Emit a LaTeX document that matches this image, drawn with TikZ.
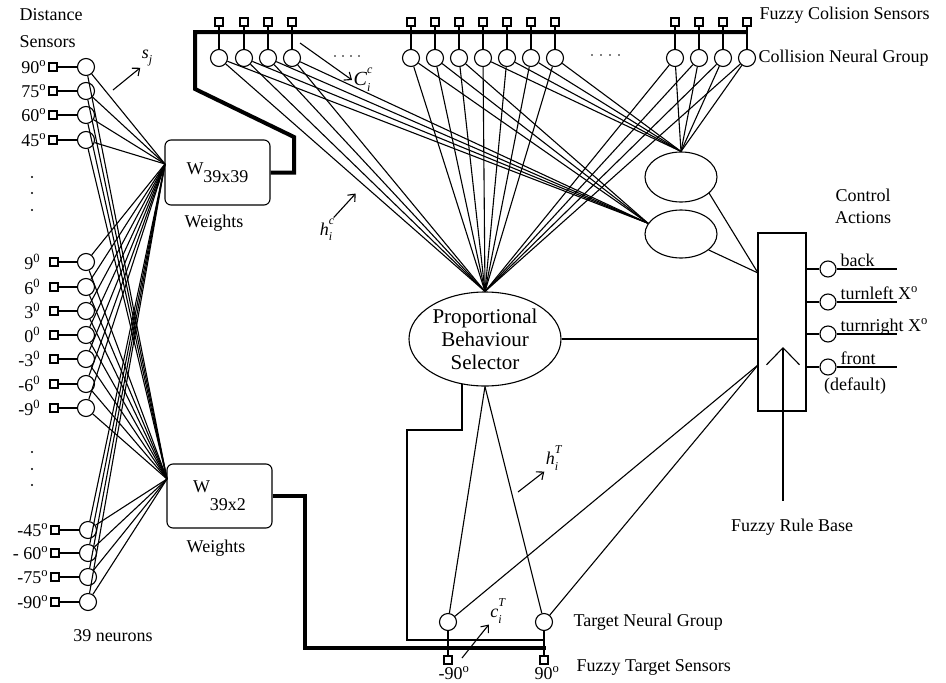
\documentclass[tikz,border=0pt]{standalone}
\usepackage{fontspec}
\setmainfont{Liberation Serif}
\usetikzlibrary{arrows.meta}
\usetikzlibrary{shapes.geometric}
\usetikzlibrary{positioning}
\newcommand{\idxlabel}[3]{\textit{#1}\rlap{\raisebox{0.6em}{\fontsize{12}{12}\selectfont\textit{#3}}}\raisebox{-0.3em}{\fontsize{12}{12}\selectfont\textit{#2}}}
\tikzset{neuron/.style = {draw, circle, minimum size=17pt, inner sep=0pt},
         sensor/.style = {draw, rectangle, minimum size=8.5pt, inner sep=0pt, line width=2.2pt},
         wbox/.style = {draw, rounded corners=6pt, minimum width=105pt, minimum height=65pt},
         bus/.style = {line width=4pt},
         selbus/.style = {line width=2.5pt},
         pointer/.style = {-{Straight Barb[length=6pt,width=10pt]}}}

\begin{document}
\begin{tikzpicture}[x=1pt, y=-1pt, line width=1.1pt, font=\fontsize{18}{21}\selectfont]
    \useasboundingbox (0,0) rectangle (946,683);

    \node [anchor=west, inner sep=0pt] (dhead1) at (19,15) {Distance};
    \node [anchor=west, inner sep=0pt] (dhead2) at (19,42) {Sensors};

    \foreach \y/\lbl [count=\i] in {67/90\textsuperscript{o}, 91/75\textsuperscript{o}, 115/60\textsuperscript{o}, 140/45\textsuperscript{o}}
    {
        \node [sensor] (ds\i) at (53,\y) {};
        \node [neuron] (d\i) at (86,\y) {};
        \node [anchor=east, inner sep=1pt] (dl\i) at (ds\i.west) {\lbl};
        \draw (ds\i) -- (d\i);
    }
    \foreach \y/\lbl [count=\i from 5] in {262/9\textsuperscript{0}, 287/6\textsuperscript{0}, 311/3\textsuperscript{0}, 335/0\textsuperscript{0}, 359/-3\textsuperscript{0}, 384/-6\textsuperscript{0}, 408/-9\textsuperscript{0}}
    {
        \node [sensor] (ds\i) at (54,\y) {};
        \node [neuron] (d\i) at (86,\y) {};
        \node [anchor=east, inner sep=1pt] (dl\i) at ([xshift=-7pt]ds\i.west) {\lbl};
        \draw (ds\i) -- (d\i);
    }
    \foreach \y/\lbl [count=\i from 12] in {530/-45\textsuperscript{o}, 553/- 60\textsuperscript{o}, 577/-75\textsuperscript{o}, 602/-90\textsuperscript{o}}
    {
        \node [sensor] (ds\i) at (55,\y) {};
        \node [neuron] (d\i) at (88,\y) {};
        \node [anchor=east, inner sep=1pt] (dl\i) at (ds\i.west) {\lbl};
        \draw (ds\i) -- (d\i);
    }
    \foreach \y in {177,193,210,452,469,485}
        \fill (32,\y) circle (1.1);
    \node (neurons) at (113,636) {39 neurons};

    \node [wbox] (w1) at (217.5,172.5) {W\raisebox{-8pt}{39x39}};
    \node [wbox, minimum height=64pt] (w2) at (219.5,496) {W\raisebox{-18pt}{39x2}};
    \node (wl1) at (214,223) {Weights};
    \node (wl2) at (216,548) {Weights};
    \coordinate (w1in) at (165,164);
    \coordinate (w2in) at (167,479);
    \foreach \i in {1,...,15}
    {
        \draw (d\i) -- (w1in);
        \draw (d\i) -- (w2in);
    }

    \node [inner sep=1pt] (sj) at (147,58) {\textit{s}\raisebox{-0.3em}{\fontsize{12}{12}\selectfont\textit{j}}};
    \draw [pointer] (113,90) -- (sj.south west);

    \draw [bus] (w1.east) -| (294,137) -- (195,89) |- (747,32);
    \foreach \x [count=\i] in {219,244,268,292,411,435,459,483,507,531,555,675,699,723,747}
    {
        \node [sensor] (cs\i) at (\x,22) {};
        \node [neuron] (c\i) at (\x,58) {};
        \draw (cs\i) -- (c\i);
    }
    \foreach \x in {335,343,351,359}
        \fill (\x,56) circle (0.8);
    \foreach \x in {592,601,610,619}
        \fill (\x,55) circle (0.8);
    \node [anchor=west, inner sep=0pt] (fcs) at (759,15) {Fuzzy Colision Sensors};
    \node [anchor=west, inner sep=0pt] (cng) at (758,58) {Collision Neural Group};

    \node [inner sep=1pt, font=\fontsize{20}{22}\selectfont] (cic) at (362,80) {\idxlabel{C}{i}{c}};
    \draw [pointer] (300,43) -- (cic.west);

    \node [draw, ellipse, minimum width=152pt, minimum height=94pt, inner sep=-3pt, align=center,
           font=\fontsize{21}{23}\selectfont] (pbs) at (485,339) {Proportional\\Behaviour\\Selector};
    \node [draw, ellipse, minimum width=72pt, minimum height=50pt] (e1) at (681,177) {};
    \node [draw, ellipse, minimum width=72pt, minimum height=48pt] (e2) at (681,234) {};

    \foreach \i in {1,...,15}
        \draw (c\i) -- (pbs.north);
    \foreach \i in {1,...,7}
        \draw (c\i) -- (e2.162);
    \foreach \i in {8,...,15}
        \draw (c\i) -- (e1.north);

    \node [inner sep=1pt] (hic) at (326,230) {\idxlabel{h}{i}{c}};
    \draw [pointer] (hic.north east) -- ++(22,-24);

    \node [draw, minimum width=48pt, minimum height=178pt, inner sep=0pt] (ctrl) at (782,322) {};
    \coordinate (cin1) at (758,273);
    \coordinate (cin2) at (758,365);
    \coordinate (ruletip) at (783,347);
    \draw (e1.-30) -- (cin1);
    \draw (e2.-30) -- (cin1);
    \draw (pbs.east) -- (pbs.east -| ctrl.west);

    \node (ctrlact) [align=center, font=\fontsize{18}{22}\selectfont] at (863,206) {Control\\Actions};
    \foreach \y/\txt [count=\i] in {269/back, 302/turnleft X\textsuperscript{o}, 334/turnright X\textsuperscript{o}, 367/front}
    {
        \node [neuron, minimum size=16pt] (o\i) at (828,\y) {};
        \draw (o\i -| ctrl.east) -- (o\i);
        \draw (o\i.east) -- ++(60,0);
        \node [anchor=base west, inner sep=0pt] (ol\i) at (840,\y-3) {\txt};
    }
    \node (dflt) at (855,386) {(default)};

    \node (frb) at (792,527) {Fuzzy Rule Base};
    \draw [-{Straight Barb[length=17pt,width=33pt]}] ([yshift=14pt]frb.north -| ruletip) -- (ruletip);

    \node [neuron] (t1) at (448,622) {};
    \node [neuron] (t2) at (544,622) {};
    \node [sensor] (ts1) at (448,660) {};
    \node [sensor] (ts2) at (544,660) {};
    \draw [selbus] (pbs.243) |- (407,430) |- (t2 |- 0,640);
    \draw [bus] (w2.east) -| (305,648) -- (546,648);
    \draw (t1) -- (ts1);
    \draw (t2) -- (ts2);
    \draw (pbs.south) -- (t1);
    \draw (pbs.south) -- (t2);
    \draw (t1) -- (cin2);
    \draw (t2) -- (cin2);
    \node [inner sep=0pt] (tl1) at (454,673) {-90\textsuperscript{o}};
    \node [inner sep=0pt] (tl2) at (547,673) {90\textsuperscript{o}};
    \node [anchor=west, inner sep=0pt] (tng) at (573,622) {Target Neural Group};
    \node [anchor=west, inner sep=0pt] (fts) at (576,667) {Fuzzy Target Sensors};

    \node [inner sep=1pt] (hit) at (552,458) {\idxlabel{h}{i}{T}};
    \draw [pointer] (518,492) -- (hit.south west);
    \node [inner sep=1pt] (cit) at (496,611) {\idxlabel{c}{i}{T}};
    \draw [pointer] (462,658) -- (cit.south west);
\end{tikzpicture}
\end{document}
